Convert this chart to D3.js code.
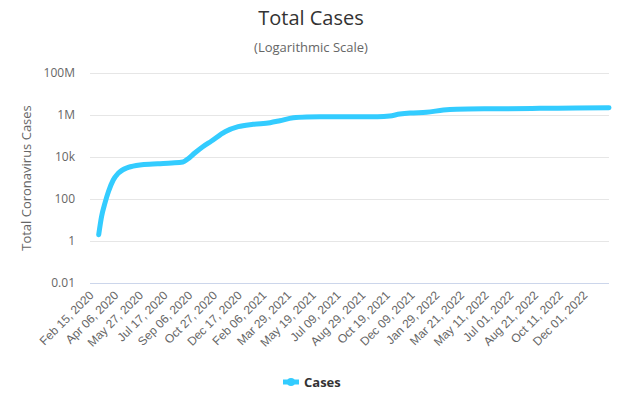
<!DOCTYPE html>
<html>
<head>
<meta charset="utf-8">
<script src="https://cdn.jsdelivr.net/npm/d3@7"></script>
<style>
  html, body { margin: 0; padding: 0; background: #fff; }
  svg { display: block; font-family: "Open Sans", "DejaVu Sans", sans-serif; }
</style>
</head>
<body>
<svg id="chart" width="630" height="402"></svg>
<script>
// ---- data ----
const dates = ["2020-03-04","2020-03-10","2020-03-17","2020-03-24","2020-04-03","2020-04-13","2020-05-04","2020-06-01","2020-07-04","2020-08-02","2020-08-25","2020-09-04","2020-09-19","2020-10-05","2020-10-23","2020-11-20","2020-12-17","2021-01-17","2021-02-21","2021-03-13","2021-04-10","2021-05-07","2021-06-04","2021-08-01","2021-10-01","2021-10-26","2021-11-16","2021-12-07","2022-01-10","2022-02-14","2022-03-13","2022-06-01","2022-09-01","2022-11-15","2023-01-22"];
const cases = [2,15,65,220,800,1650,3200,4300,4800,5200,5800,8000,16000,31000,58000,160000,277000,360000,430000,535000,740000,800000,815000,820000,830000,900000,1110000,1250000,1340000,1730000,1880000,1980000,2070000,2140000,2200000];
const xTickLabels = ["Feb 15, 2020","Apr 06, 2020","May 27, 2020","Jul 17, 2020","Sep 06, 2020","Oct 27, 2020","Dec 17, 2020","Feb 06, 2021","Mar 29, 2021","May 19, 2021","Jul 09, 2021","Aug 29, 2021","Oct 19, 2021","Dec 09, 2021","Jan 29, 2022","Mar 21, 2022","May 11, 2022","Jul 01, 2022","Aug 21, 2022","Oct 11, 2022","Dec 01, 2022"];
const yTickValues = [0.01, 1, 100, 10000, 1000000, 100000000];
const yTickLabels = ["0.01","1","100","10k","1M","100M"];
const xDomain = ["2020-02-15","2023-01-22"];
const seriesName = "Cases";

// ---- layout ----
const color = "#33ccff";
const plot = { left: 90, right: 609, top: 73, bottom: 283 };
const parse = d3.timeParse("%Y-%m-%d");
const parseLabel = d3.timeParse("%b %d, %Y");
const svg = d3.select("#chart");

const x = d3.scaleTime().domain(xDomain.map(parse)).range([plot.left, plot.right]);
const y = d3.scaleLog().domain([0.01, 1e8]).range([plot.bottom, plot.top]);

// titles
svg.append("text").attr("x", 311).attr("y", 25).attr("text-anchor", "middle")
  .attr("fill", "#333").style("font-size", "20px").text("Total Cases");
svg.append("text").attr("x", 311).attr("y", 52).attr("text-anchor", "middle")
  .attr("fill", "#666").style("font-size", "13px").text("(Logarithmic Scale)");

// grid lines
const yAxis = d3.axisLeft(y).tickValues(yTickValues)
  .tickFormat((d, i) => yTickLabels[i]).tickSize(0).tickPadding(15);
const gy = svg.append("g").attr("transform", `translate(${plot.left},0)`).call(yAxis);
gy.select(".domain").remove();
gy.selectAll("text").attr("fill", "#666").style("font-size", "12px")
  .style("font-family", "'Open Sans', sans-serif");
svg.append("g").selectAll("line").data(yTickValues.slice(1)).join("line")
  .attr("x1", plot.left).attr("x2", plot.right)
  .attr("y1", d => Math.round(y(d)) + 0.5).attr("y2", d => Math.round(y(d)) + 0.5)
  .attr("stroke", "#e6e6e6").attr("stroke-width", 1);

// x axis
const xTicks = xTickLabels.map(parseLabel);
const xAxis = d3.axisBottom(x).tickValues(xTicks)
  .tickFormat((d, i) => xTickLabels[i]).tickSize(0).tickPadding(0);
const gx = svg.append("g").attr("transform", `translate(0,${plot.bottom})`).call(xAxis);
gx.select(".domain").attr("stroke", "#ccd6eb")
  .attr("d", `M${plot.left},0.5H${plot.right}`);
gx.selectAll("text").attr("fill", "#666").style("font-size", "12px")
  .attr("text-anchor", "end").attr("dy", null).attr("y", 0)
  .attr("transform", "translate(4,13) rotate(-45)");

// y axis title
svg.append("text").attr("transform", "translate(31,178) rotate(-90)")
  .attr("text-anchor", "middle").attr("fill", "#666").style("font-size", "13px")
  .text("Total Coronavirus Cases");

// line
const pts = dates.map((d, i) => ({ date: parse(d), v: cases[i] }));
const line = d3.line().x(d => x(d.date)).y(d => y(d.v)).curve(d3.curveMonotoneX);
svg.append("path").datum(pts).attr("d", line).attr("fill", "none")
  .attr("stroke", color).attr("stroke-width", 5)
  .attr("stroke-linejoin", "round").attr("stroke-linecap", "round");

// legend
const lg = svg.append("g").attr("transform", "translate(283,382)");
lg.append("line").attr("x1", 0).attr("x2", 16).attr("y1", 0).attr("y2", 0)
  .attr("stroke", color).attr("stroke-width", 5);
lg.append("circle").attr("cx", 8).attr("cy", 0).attr("r", 4).attr("fill", color);
lg.append("text").attr("x", 21).attr("y", 4.5).attr("fill", "#333")
  .style("font-size", "13px").style("font-weight", "bold").text(seriesName);
</script>
</body>
</html>
